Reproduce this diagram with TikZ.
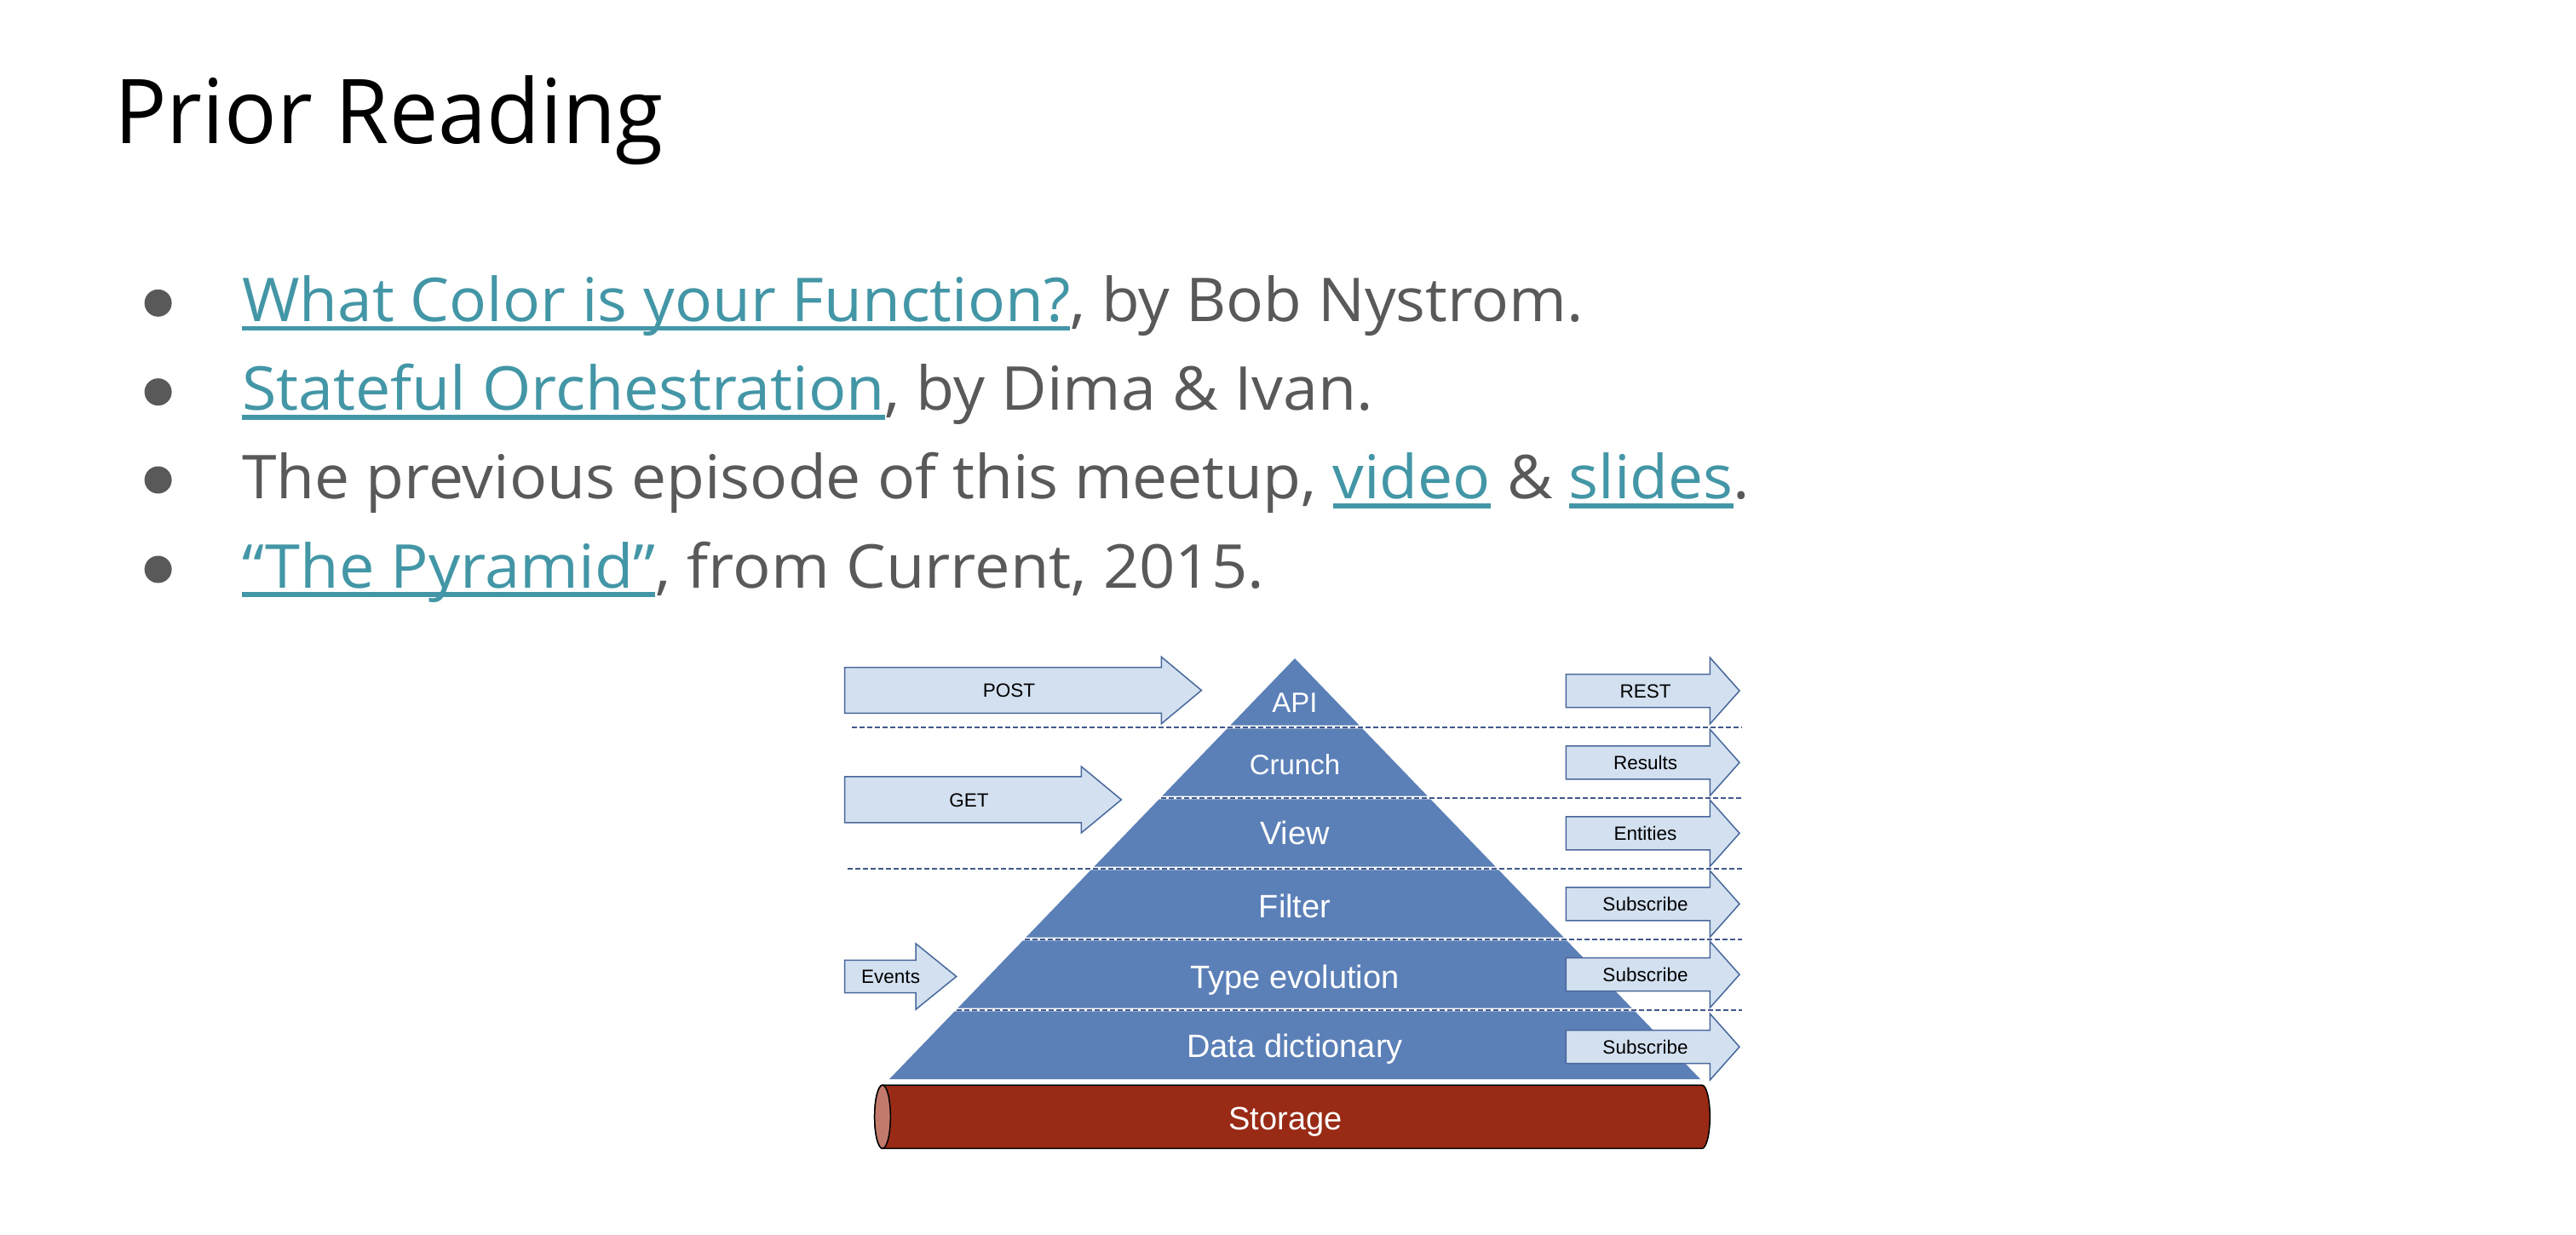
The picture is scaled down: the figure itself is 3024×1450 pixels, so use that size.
\documentclass[tikz,border=0pt]{standalone}
\usepackage{fontspec}
\usepackage{graphicx}
\setmainfont{Open Sans}
\newfontfamily\arialf{Liberation Sans}
\definecolor{textg}{RGB}{89,89,89}
\definecolor{linkc}{RGB}{67,150,166}
\definecolor{pyrfill}{RGB}{91,127,183}
\definecolor{arrfill}{RGB}{210,224,240}
\definecolor{arrline}{RGB}{72,104,155}
\definecolor{dashc}{RGB}{66,88,140}
\definecolor{storc}{RGB}{152,42,22}
\definecolor{capc}{RGB}{193,122,108}
\newcommand\lk[1]{{\color{linkc}\setbox1=\hbox{#1}\rlap{\rule[-11pt]{\wd1}{5.6pt}}\box1}}
\newcommand\fitto[2]{\setbox0=\hbox{#2}\pgfmathsetmacro\fitf{#1/\the\wd0}\scalebox{\fitf}[1]{\box0}}
\newcommand\pyr[2]{%
  \pgfmathsetmacro\wt{0.9636*(#1-773)}\pgfmathsetmacro\wb{0.9636*(#2-773)}%
  \fill[pyrfill] ({1520-\wt},#1) -- ({1520+\wt},#1) -- ({1520+\wb},#2) -- ({1520-\wb},#2) -- cycle;}
\newcommand\fatarrow[6]{%
  \draw[arrowsty] (#1,#4-#5) -- (#2,#4-#5) -- (#2,#4-#6) -- (#3,#4) -- (#2,#4+#6) -- (#2,#4+#5) -- (#1,#4+#5) -- cycle;}
\tikzset{
  arrowsty/.style={fill=arrfill, draw=arrline, line width=1.5pt},
  dashline/.style={draw=dashc, line width=2pt, dash pattern=on 6pt off 3pt},
  pyrlabel/.style={anchor=base, inner sep=0pt, text=white, font=\arialf\fontsize{38}{44}\selectfont},
  pyrsmall/.style={anchor=base, inner sep=0pt, text=white, font=\arialf\fontsize{33}{40}\selectfont},
  arrlabel/.style={anchor=base, inner sep=0pt, text=black, font=\arialf\fontsize{22.5}{27}\selectfont},
  bullet/.style={circle, fill=textg, minimum size=32pt, inner sep=0pt},
  itemtext/.style={anchor=base west, inner sep=0pt, text=textg, font=\fontsize{71}{80}\selectfont}
}
\begin{document}
\begin{tikzpicture}[x=1pt,y=-1pt]
\fill[white] (0,0) rectangle (3024,1450);
\useasboundingbox (0,0) rectangle (3024,1450);

% title
\node[anchor=base west, inner sep=0pt, text=black, font=\fontsize{105}{120}\selectfont] (title) at (134,168.3) {\fitto{645}{Prior Reading}};

% bullets
\node[bullet] (d1) at (185.6,355.8) {};
\node[bullet] (d2) at (185.6,460.2) {};
\node[bullet] (d3) at (185.6,563.5) {};
\node[bullet] (d4) at (185.6,668.5) {};
\node[itemtext] (t1) at (284,377.3) {\fitto{1575}{\lk{What Color is your Function?}, by Bob Nystrom.}};
\node[itemtext] (t2) at (284,481.7) {\fitto{1328}{\lk{Stateful Orchestration}, by Dima \& Ivan.}};
\node[itemtext] (t3) at (284,585.5) {\fitto{1770}{The previous episode of this meetup, \lk{video} \& \lk{slides}.}};
\node[itemtext] (t4) at (284,690) {\fitto{1200}{\lk{“The Pyramid”}, from Current, 2015.}};

% pyramid layers
\pyr{773}{851.7}
\pyr{855.3}{934.7}
\pyr{938.3}{1017.7}
\pyr{1021.3}{1100.7}
\pyr{1104.3}{1183.7}
\pyr{1187.3}{1267}

% dashed separators
\draw[dashline] (1000,853.5) -- (2045,853.5);
\draw[dashline] (1362.5,936.5) -- (2045,936.5);
\draw[dashline] (995,1019.5) -- (2046,1019.5);
\draw[dashline] (1203,1102.5) -- (2045,1102.5);
\draw[dashline] (1123,1185.5) -- (2045,1185.5);

% pyramid labels
\node[pyrsmall] (api) at (1520,836.5) {API};
\node[pyrsmall] (crunch) at (1520,909.5) {Crunch};
\node[pyrlabel] (view) at (1520,991) {View};
\node[pyrlabel] (filter) at (1520,1077) {Filter};
\node[pyrlabel] (typeev) at (1520,1160) {Type evolution};
\node[pyrlabel] (datadict) at (1520,1241.5) {Data dictionary};

% left arrows
\fatarrow{991.6}{1363.4}{1410.4}{810.5}{26.8}{39.2}
\fatarrow{991.6}{1269.4}{1316.4}{938.9}{27}{38.9}
\fatarrow{991.6}{1075}{1122.7}{1146.5}{19.2}{38.7}
\node[arrlabel] (post) at (1184.5,818.8) {POST};
\node[arrlabel] (get) at (1137.5,947.2) {GET};
\node[arrlabel] (events) at (1045.6,1154.8) {Events};

% right arrows
\fatarrow{1838.3}{2007.3}{2042}{811}{19.5}{39}
\fatarrow{1838.3}{2007.3}{2042}{895.3}{19.5}{39}
\fatarrow{1838.3}{2007.3}{2042}{978.3}{19.5}{39}
\fatarrow{1838.3}{2007.3}{2042}{1061.3}{19.5}{39}
\fatarrow{1838.3}{2007.3}{2042}{1144.2}{19.5}{39}
\fatarrow{1838.3}{2007.3}{2042}{1229.1}{19.5}{39}
\node[arrlabel] (rest) at (1931.5,819.3) {REST};
\node[arrlabel] (results) at (1931.5,903.6) {Results};
\node[arrlabel] (entities) at (1931.5,986.6) {Entities};
\node[arrlabel] (sub1) at (1931.5,1069.6) {Subscribe};
\node[arrlabel] (sub2) at (1931.5,1152.5) {Subscribe};
\node[arrlabel] (sub3) at (1931.5,1237.4) {Subscribe};

% storage cylinder
\filldraw[fill=storc, draw=black, line width=1.5pt] (1036,1274) -- (1998,1274)
  arc[start angle=90, end angle=-90, x radius=9.3pt, y radius=37.2pt]
  -- (1036,1348.4)
  arc[start angle=270, end angle=90, x radius=9.3pt, y radius=37.2pt] -- cycle;
\filldraw[fill=capc, draw=black, line width=1.5pt] (1036,1311.2) ellipse[x radius=9.3pt, y radius=37.2pt];
\node[anchor=base, inner sep=0pt, text=white, font=\arialf\fontsize{38}{44}\selectfont] (storage) at (1509,1326) {Storage};
\end{tikzpicture}
\end{document}
